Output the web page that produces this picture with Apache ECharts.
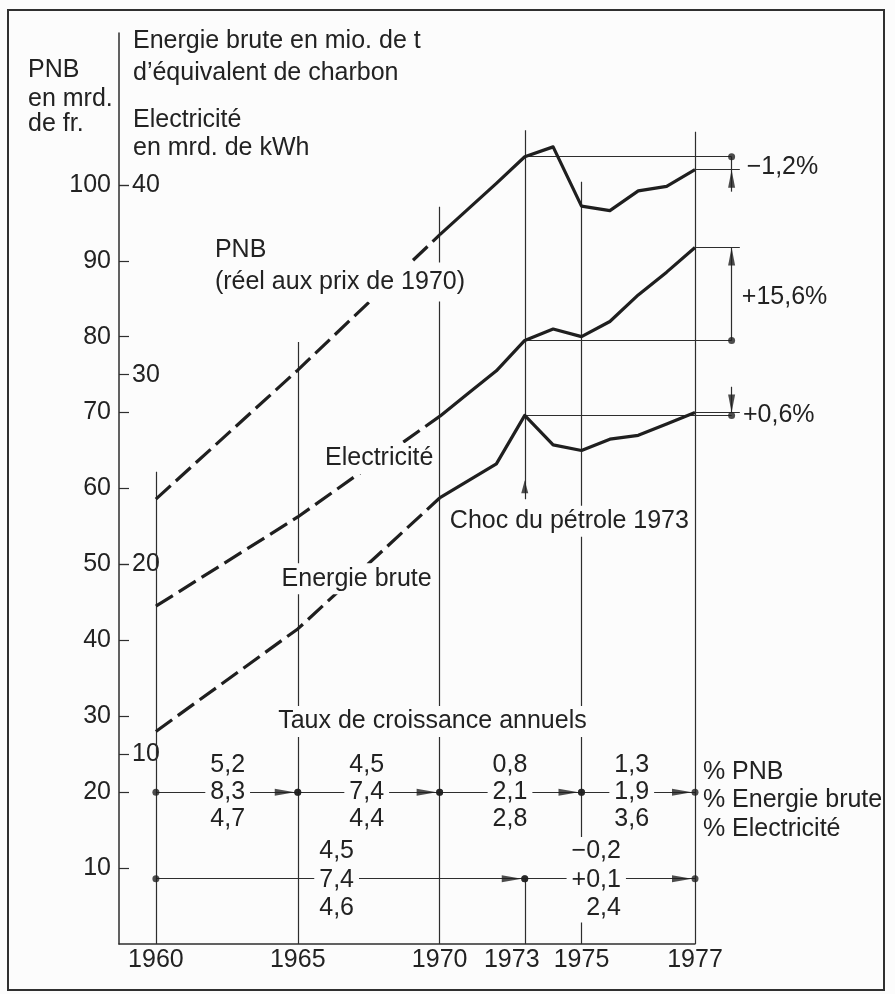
<!DOCTYPE html>
<html>
<head>
<meta charset="utf-8">
<script src="https://cdn.jsdelivr.net/npm/echarts@6/dist/echarts.min.js"></script>
<style>
html,body{margin:0;padding:0;background:#fcfcfc;}
#chart{width:895px;height:994px;}
</style>
</head>
<body>
<div id="chart"></div>
<script>
// ---------------- DATA ----------------
// periods on the x axis (from 1975 the series is half-yearly)
const periods = ['1960','1961','1962','1963','1964','1965','1966','1967','1968','1969',
                 '1970','1971','1972','1973','1974','1975','1975 II','1976','1976 II','1977'];
const tickIndex = [0, 5, 10, 13, 15, 19];
const tickYears = ['1960', '1965', '1970', '1973', '1975', '1977'];
const pnbTicks = [10, 20, 30, 40, 50, 60, 70, 80, 90, 100];
const energyTicks = [10, 20, 30, 40];

// PNB en mrd. de fr. (réel aux prix de 1970)
const pnbTrend = [58.6, null, null, null, null, 75.6, null, null, null, null, 93.4,
                  null, null, null, null, null, null, null, null, null];
const pnbObs = [null, null, null, null, null, null, null, null, null, null,
                93.4, 96.8, 100.2, 103.7, 105.0, 97.2, 96.6, 99.2, 99.8, 102.0];
// Electricité en mrd. de kWh
const elecTrend = [17.8, null, null, null, null, 22.5, null, null, null, null, 27.8,
                   null, null, null, null, null, null, null, null, null];
const elecObs = [null, null, null, null, null, null, null, null, null, null,
                 27.8, 29.0, 30.2, 31.8, 32.4, 32.0, 32.8, 34.2, 35.4, 36.7];
// Energie brute en mio. de t d'équivalent de charbon
const energyTrend = [11.2, null, null, null, null, 16.6, null, null, null, null, 23.5,
                     null, null, null, null, null, null, null, null, null];
const energyObs = [null, null, null, null, null, null, null, null, null, null,
                   23.5, 24.4, 25.3, 27.85, 26.3, 26.0, 26.6, 26.8, 27.4, 28.0];

// Taux de croissance annuels (%)
const row1Spans = [[0, 5], [5, 10], [10, 15], [15, 19]];
const row1Pnb = [5.2, 4.5, 0.8, 1.3];
const row1Energy = [8.3, 7.4, 2.1, 1.9];
const row1Elec = [4.7, 4.4, 2.8, 3.6];
const row2Spans = [[0, 13], [13, 19]];
const row2Pnb = [4.5, -0.2];
const row2Energy = [7.4, 0.1];
const row2Elec = [4.6, 2.4];
// variation 1973 -> 1977 (%): PNB, Electricité, Energie brute
const changes = [-1.2, 15.6, 0.6];

// ---------------- LAYOUT / STYLE ----------------
const BG = '#fcfcfc', INK = '#1f1f1f', THIN = '#2e2e2e', TXT = '#222';
const FONT = '"Liberation Sans", Arial, Helvetica, sans-serif';
const FS = 25;
const L = {
  row1Y: 20, row2Y: 8.6,
  dimX: 20.29, dimEndX: 20.58,
  lineTop: {0: 62.2, 5: 79.3, 10: 97.1, 13: 107.2, 15: 100.4, 19: 107.0},
  chocBase: 58.6, chocTip: 61.1,
  pnbArrowFrom: 99.1, energyArrowFrom: 29.36,
  row1LabelX: [2.53, 7.43, 12.48, 16.77],
  row2LabelX: [6.37, 16.39]
};

const pts = arr => arr.map((v, i) => v == null ? null : [i, v]).filter(d => d);
const fmt = (v, plus) => (v < 0 ? '\u2212' : (plus ? '+' : '')) + Math.abs(v).toFixed(1).replace('.', ',');

const chart = echarts.init(document.getElementById('chart'), null, {renderer: 'canvas'});

// thin construction lines
const thinPrimary = [];
const thinSecondary = [];
tickIndex.forEach(i => {
  if (i === 13) {
    thinPrimary.push({coords: [[i, 0], [i, L.row2Y]]});
    thinPrimary.push({coords: [[i, L.chocBase], [i, L.lineTop[i]]]});
  } else {
    thinPrimary.push({coords: [[i, 0], [i, L.lineTop[i]]]});
  }
});
row1Spans.forEach(s => thinPrimary.push({coords: [[s[0], L.row1Y], [s[1], L.row1Y]]}));
row2Spans.forEach(s => thinPrimary.push({coords: [[s[0], L.row2Y], [s[1], L.row2Y]]}));
// dimension lines 1973 -> 1977
thinPrimary.push({coords: [[13, pnbObs[13]], [L.dimX, pnbObs[13]]]});
thinPrimary.push({coords: [[19, pnbObs[19]], [L.dimEndX, pnbObs[19]]]});
thinPrimary.push({coords: [[L.dimX, L.pnbArrowFrom], [L.dimX, pnbObs[13]]]});
thinSecondary.push({coords: [[13, elecObs[13]], [L.dimX, elecObs[13]]]});
thinSecondary.push({coords: [[19, elecObs[19]], [L.dimEndX, elecObs[19]]]});
thinSecondary.push({coords: [[L.dimX, elecObs[13]], [L.dimX, elecObs[19]]]});
thinSecondary.push({coords: [[13, energyObs[13]], [L.dimX, energyObs[13]]]});
thinSecondary.push({coords: [[19, energyObs[19]], [L.dimEndX, energyObs[19]]]});
thinSecondary.push({coords: [[L.dimX, energyObs[19]], [L.dimX, L.energyArrowFrom]]});

// dots
const dotsPrimary = [];
row1Spans.forEach(s => { dotsPrimary.push([s[0], L.row1Y]); dotsPrimary.push([s[1], L.row1Y]); });
row2Spans.forEach(s => { dotsPrimary.push([s[0], L.row2Y]); dotsPrimary.push([s[1], L.row2Y]); });
dotsPrimary.push([L.dimX, pnbObs[13]]);
const dotsSecondary = [[L.dimX, elecObs[13]], [L.dimX, energyObs[13]]];

// arrow heads
const arrowsRight = row1Spans.map(s => [s[1], L.row1Y]).concat(row2Spans.map(s => [s[1], L.row2Y]));

const lineBase = {type: 'line', symbol: 'none', silent: true, animation: false, z: 3, clip: false};
const dashed = {color: INK, width: 3.2, type: [20, 7], cap: 'butt'};
const solid = {color: INK, width: 3.2, join: 'round'};
const scat = {type: 'scatter', silent: true, z: 20, clip: false, itemStyle: {color: INK}};

const option = {
  backgroundColor: BG,
  animation: false,
  grid: {left: 119, right: 200, top: 33, bottom: 50, outerBoundsMode: 'none', containLabel: false},
  xAxis: {
    type: 'value', min: -1.3, max: 19,
    axisLine: {show: true, onZero: false, lineStyle: {color: THIN, width: 1.5}},
    axisTick: {show: false},
    splitLine: {show: false},
    axisLabel: {
      customValues: tickIndex,
      formatter: v => {
        const s = tickYears[tickIndex.indexOf(Math.round(v))] || '';
        return Math.round(v) === 13 ? '{s|' + s + '}' : s;
      },
      rich: {s: {fontFamily: FONT, fontSize: FS, color: TXT, padding: [0, 26, 0, 0]}},
      color: TXT, fontFamily: FONT, fontSize: FS, margin: 4
    }
  },
  yAxis: [
    {
      type: 'value', min: 0, max: 120, position: 'left',
      axisLine: {show: true, onZero: false, lineStyle: {color: THIN, width: 1.5}},
      axisTick: {show: true, inside: true, length: 10, customValues: pnbTicks, lineStyle: {color: THIN, width: 1.2}},
      axisLabel: {customValues: pnbTicks, color: TXT, fontFamily: FONT, fontSize: FS, margin: 8},
      splitLine: {show: false}
    },
    {
      type: 'value', min: 0, max: 48, position: 'left', offset: 0,
      axisLine: {show: false, onZero: false},
      axisTick: {show: true, inside: true, length: 10, customValues: energyTicks, lineStyle: {color: THIN, width: 1.2}},
      axisLabel: {customValues: energyTicks, inside: true, color: TXT, fontFamily: FONT, fontSize: FS, margin: 13},
      splitLine: {show: false}
    }
  ],
  series: [
    Object.assign({}, lineBase, {name: 'PNB tendance', yAxisIndex: 0, data: pts(pnbTrend), lineStyle: dashed}),
    Object.assign({}, lineBase, {name: 'PNB', yAxisIndex: 0, data: pts(pnbObs), lineStyle: solid}),
    Object.assign({}, lineBase, {name: 'Electricité tendance', yAxisIndex: 1, data: pts(elecTrend), lineStyle: dashed}),
    Object.assign({}, lineBase, {name: 'Electricité', yAxisIndex: 1, data: pts(elecObs), lineStyle: solid}),
    Object.assign({}, lineBase, {name: 'Energie brute tendance', yAxisIndex: 1, data: pts(energyTrend), lineStyle: dashed}),
    Object.assign({}, lineBase, {name: 'Energie brute', yAxisIndex: 1, data: pts(energyObs), lineStyle: solid}),
    {type: 'lines', coordinateSystem: 'cartesian2d', xAxisIndex: 0, yAxisIndex: 0, silent: true, z: 2, clip: false,
     lineStyle: {color: THIN, width: 1.2, opacity: 1, curveness: 0}, data: thinPrimary},
    {type: 'lines', coordinateSystem: 'cartesian2d', xAxisIndex: 0, yAxisIndex: 1, silent: true, z: 2, clip: false,
     lineStyle: {color: THIN, width: 1.2, opacity: 1, curveness: 0}, data: thinSecondary},
    Object.assign({}, scat, {yAxisIndex: 0, symbol: 'circle', symbolSize: 7, data: dotsPrimary}),
    Object.assign({}, scat, {yAxisIndex: 1, symbol: 'circle', symbolSize: 7, data: dotsSecondary}),
    Object.assign({}, scat, {yAxisIndex: 0, symbol: 'triangle', symbolSize: [7, 20], symbolRotate: -90,
     symbolOffset: [-13, 0], data: arrowsRight}),
    Object.assign({}, scat, {yAxisIndex: 0, symbol: 'triangle', symbolSize: [7, 18], symbolRotate: 0,
     symbolOffset: [0, 9], data: [[L.dimX, pnbObs[19]]]}),
    Object.assign({}, scat, {yAxisIndex: 0, symbol: 'triangle', symbolSize: [7, 13], symbolRotate: 0,
     symbolOffset: [0, 6.5], data: [[13, L.chocTip]]}),
    Object.assign({}, scat, {yAxisIndex: 1, symbol: 'triangle', symbolSize: [7, 18], symbolRotate: 0,
     symbolOffset: [0, 9], data: [[L.dimX, elecObs[19]]]}),
    Object.assign({}, scat, {yAxisIndex: 1, symbol: 'triangle', symbolSize: [7, 18], symbolRotate: 180,
     symbolOffset: [0, -9], data: [[L.dimX, energyObs[19]]]})
  ]
};
chart.setOption(option);

// ---------------- TEXT ANNOTATIONS ----------------
const P = (x, y, ax) => chart.convertToPixel({xAxisIndex: 0, yAxisIndex: ax || 0}, [x, y]);
const txt = (text, px, py, extra) => ({
  type: 'text', x: px, y: py, z: 100, silent: true,
  style: Object.assign({text: text, font: FS + 'px ' + FONT, fill: TXT, align: 'left', verticalAlign: 'middle'}, extra || {})
});
const atData = (text, x, y, extra, ax) => { const p = P(x, y, ax); return txt(text, p[0], p[1], extra); };
// masked labels: a background box hides the lines behind the words (box offset so the words keep their place)
const maskedAt = (text, x, y, padV) => {
  const p = P(x, y);
  return txt(text, p[0] - 4, p[1], {backgroundColor: BG, padding: [padV || 3, 4]});
};

const g = [];
// frame
g.push({type: 'rect', z: 1, silent: true, shape: {x: 8, y: 10, width: 876, height: 980},
        style: {fill: 'none', stroke: '#303030', lineWidth: 2}});
// axis headers
g.push(txt('PNB', 28, 70.5));
g.push(txt('en mrd.', 28, 99));
g.push(txt('de fr.', 28, 124));
g.push(txt('Energie brute en mio. de t', 133, 41.5));
g.push(txt('d\u2019équivalent de charbon', 133, 73.5));
g.push(txt('Electricité', 133, 120.5));
g.push(txt('en mrd. de kWh', 133, 148));

// series labels
g.push(atData('PNB', 2.08, 91.4));
g.push(maskedAt('(réel aux prix de 1970)', 2.08, 87.2, 7));
g.push(maskedAt('Electricité', 5.96, 63.95));
g.push(maskedAt('Energie brute', 4.43, 48.1));
g.push(maskedAt('Choc du pétrole 1973', 10.36, 55.7));
g.push(maskedAt('Taux de croissance annuels', 4.31, 29.3));

// variation labels
g.push(atData(fmt(changes[0], true) + '%', 20.82, 102.4));
g.push(atData(fmt(changes[1], true) + '%', 20.65, 85.2));
g.push(atData(fmt(changes[2], true) + '%', 20.69, 69.7));

// growth tables
row1Spans.forEach((s, k) => {
  const text = [fmt(row1Pnb[k]), fmt(row1Energy[k]), fmt(row1Elec[k])].join('\n');
  g.push(atData(text, L.row1LabelX[k], L.row1Y, {align: 'center', lineHeight: 27, backgroundColor: BG, padding: [0, 5]}));
});
row2Spans.forEach((s, k) => {
  const neg = row2Pnb[k] < 0 || row2Energy[k] < 0;
  const text = [fmt(row2Pnb[k], neg), fmt(row2Energy[k], neg), fmt(row2Elec[k])].join('\n');
  const p = P(L.row2LabelX[k], L.row2Y);
  g.push(txt(text, p[0] + (k === 1 ? 5 : 0), p[1] + 1,
    {align: k === 1 ? 'right' : 'center', lineHeight: 28.5, backgroundColor: BG, padding: [0, 5]}));
});
g.push(atData('% PNB\n% Energie brute\n% Electricité', 19.28, 18.9, {lineHeight: 28.5}));

chart.setOption({graphic: {elements: g}});
</script>
</body>
</html>
